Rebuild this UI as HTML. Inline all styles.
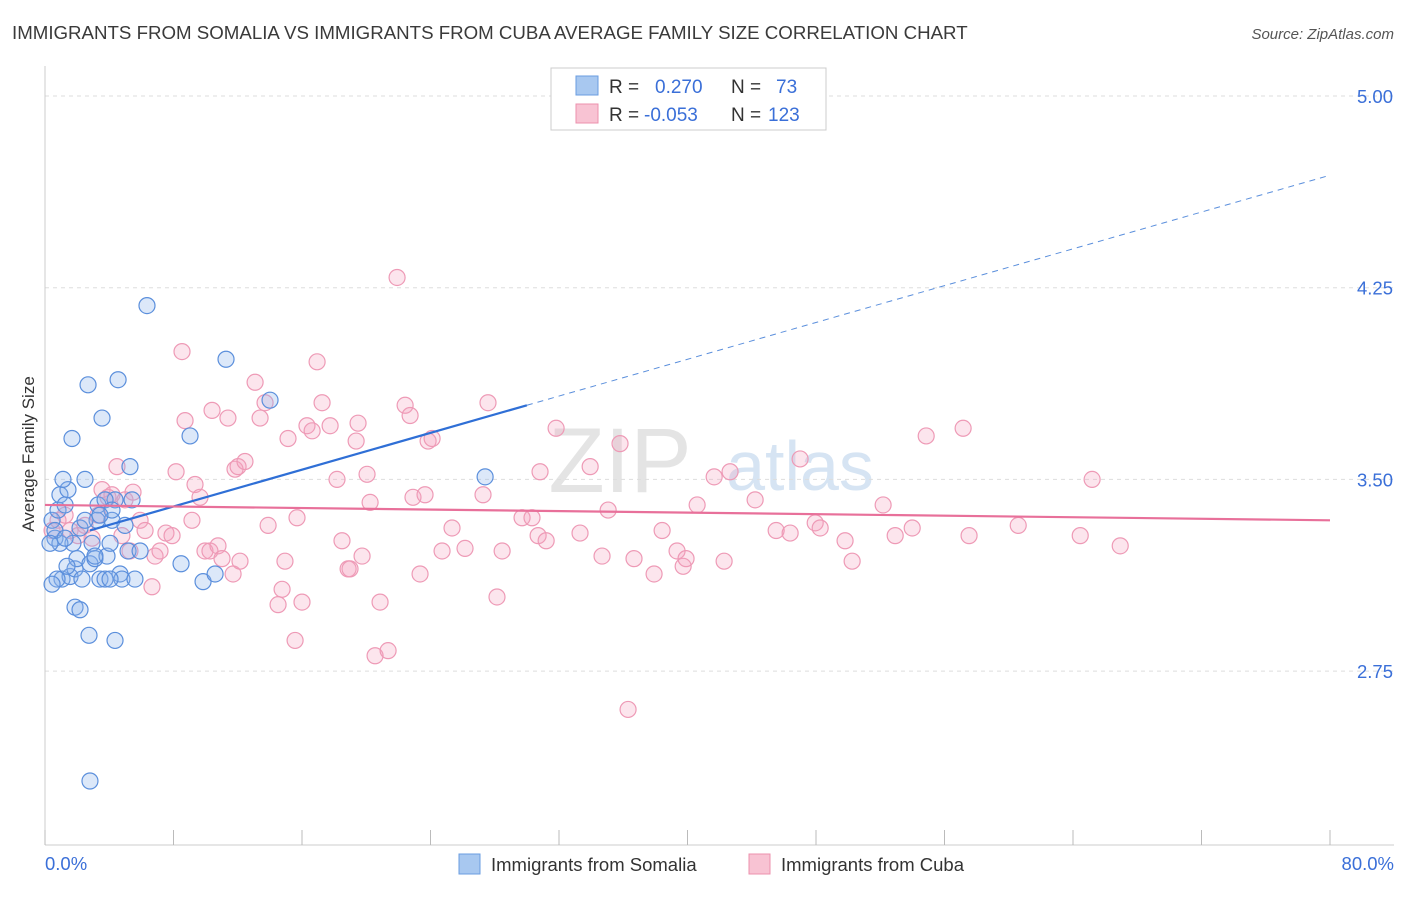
<!DOCTYPE html>
<html><head><meta charset="utf-8"><style>
body{margin:0;background:#fff;font-family:"Liberation Sans",sans-serif;}
svg text{font-family:"Liberation Sans",sans-serif;}
</style></head><body>
<svg id="chart" width="1406" height="892">
<text x="12" y="39" font-size="18.7" fill="#3a3a3a">IMMIGRANTS FROM SOMALIA VS IMMIGRANTS FROM CUBA AVERAGE FAMILY SIZE CORRELATION CHART</text>
<text x="1394" y="39" font-size="15" fill="#555" text-anchor="end" font-style="italic">Source: ZipAtlas.com</text>
<text x="36" y="456" font-size="17" fill="#333" text-anchor="middle" transform="rotate(-90 34 456)">Average Family Size</text>
<text x="620" y="492" font-size="92" fill="#e4e4e4" font-family="Liberation Serif" text-anchor="middle">ZIP</text>
<text x="800" y="490" font-size="70" fill="#d6e4f3" text-anchor="middle">atlas</text>
<g id="grid"></g><g id="axes"></g><g id="pink"></g><g id="blue"></g><g id="lines"></g>
<g>
<rect x="551" y="68" width="275" height="62" fill="#fff" stroke="#ccc"/>
<rect x="576" y="76" width="22" height="19" fill="#a8c8f0" stroke="#6a9de0"/>
<rect x="576" y="104" width="22" height="19" fill="#f8c3d3" stroke="#ec90ae"/>
<text x="609" y="93" font-size="19" fill="#333">R = <tspan fill="#3a6fd8" x="655">0.270</tspan><tspan x="731">N = </tspan><tspan fill="#3a6fd8" x="776">73</tspan></text>
<text x="609" y="121" font-size="19" fill="#333">R = <tspan fill="#3a6fd8" x="644">-0.053</tspan><tspan x="731">N = </tspan><tspan fill="#3a6fd8" x="768">123</tspan></text>
</g>
<g>
<rect x="459" y="854" width="21" height="20" fill="#a8c8f0" stroke="#6a9de0"/>
<text x="491" y="871" font-size="18.5" fill="#333">Immigrants from Somalia</text>
<rect x="749" y="854" width="21" height="20" fill="#f8c3d3" stroke="#ec90ae"/>
<text x="781" y="871" font-size="18.5" fill="#333">Immigrants from Cuba</text>
</g>
</svg>
<script>
const yTicks=[5.00,4.25,3.50,2.75];
const xTickLabels=["0.0%","80.0%"];
const blueX=[.44,.62,.81,.93,1.25,1.06,1.43,1.56,1.68,1.74,1.87,1.99,2.18,2.30,2.49,2.68,2.80,2.93,3.11,3.24,3.30,3.42,3.55,3.74,3.86,4.05,4.17,4.36,4.55,4.67,4.79,4.98,5.17,5.29,5.42,5.60,5.92,6.35,8.47,9.03,9.84,10.59,11.27,14.01,27.40,2.74,4.36,2.80,1.87,2.18,3.74,4.17,.93,.62,.31,1.37,2.49,3.11,1.12,.75,4.05,3.42,1.25,.44];
const blueY=[3.34,3.27,3.38,3.44,3.40,3.11,3.46,3.12,3.66,3.25,3.15,3.19,3.31,3.11,3.50,3.87,3.17,3.25,3.19,3.34,3.40,3.11,3.74,3.11,3.20,3.25,3.34,3.42,3.89,3.13,3.11,3.32,3.22,3.55,3.42,3.11,3.22,4.18,3.17,3.67,3.10,3.13,3.97,3.81,3.51,2.89,2.87,2.32,3.00,2.99,3.42,3.38,3.25,3.30,3.25,3.16,3.34,3.20,3.50,3.11,3.11,3.36,3.27,3.09];
const pinkX=[.44,.81,1.25,1.56,2.05,2.49,2.93,3.30,3.55,3.92,4.17,4.48,4.79,4.98,5.29,5.48,5.92,6.23,6.66,6.85,7.16,7.53,7.91,8.16,8.53,8.72,9.15,9.34,9.65,9.96,10.27,10.40,10.77,11.02,11.39,11.71,11.83,12.02,12.14,12.45,13.08,13.39,13.70,13.89,14.51,14.76,14.94,15.13,15.57,15.69,16.00,16.31,16.63,16.94,17.25,17.75,18.18,18.49,18.87,18.99,19.37,19.49,19.74,20.05,20.24,20.55,20.86,21.36,21.92,22.42,22.73,22.91,23.35,23.66,23.85,24.10,24.72,25.34,26.15,27.27,27.58,28.14,28.46,29.70,30.32,30.70,30.82,31.20,31.82,33.31,33.94,34.68,35.06,35.80,36.30,36.67,37.92,38.42,39.35,39.73,39.91,40.60,41.66,42.28,42.65,44.21,45.52,46.39,47.01,47.95,48.26,49.81,50.25,52.18,52.93,53.99,54.86,57.16,57.53,60.59,64.45,65.19,66.94];
const pinkY=[3.30,3.34,3.36,3.30,3.28,3.32,3.27,3.36,3.46,3.43,3.44,3.55,3.28,3.42,3.22,3.45,3.34,3.30,3.08,3.20,3.22,3.29,3.28,3.53,4.00,3.73,3.34,3.48,3.43,3.22,3.22,3.77,3.24,3.19,3.74,3.13,3.54,3.55,3.18,3.57,3.88,3.74,3.80,3.32,3.01,3.07,3.18,3.66,2.87,3.35,3.02,3.71,3.69,3.96,3.80,3.71,3.50,3.26,3.15,3.15,3.65,3.72,3.20,3.52,3.41,2.81,3.02,2.83,4.29,3.79,3.75,3.43,3.13,3.44,3.65,3.66,3.22,3.31,3.23,3.44,3.80,3.04,3.22,3.35,3.35,3.28,3.53,3.26,3.70,3.29,3.55,3.20,3.38,3.64,2.60,3.19,3.13,3.30,3.22,3.16,3.19,3.40,3.51,3.18,3.53,3.42,3.30,3.29,3.58,3.33,3.31,3.26,3.18,3.40,3.28,3.31,3.67,3.70,3.28,3.32,3.28,3.50,3.24];
const blueTrend=[3.25,4.69];
const pinkTrend=[3.40,3.34];
const NS="http://www.w3.org/2000/svg";
const X=v=>45+v/80*1285, Y=v=>96+(5-v)*255.6;
function mk(t,a,p){const e=document.createElementNS(NS,t);for(const k in a)e.setAttribute(k,a[k]);document.getElementById(p).appendChild(e);return e;}
yTicks.forEach(t=>{
 const l=mk('line',{x1:45,x2:1394,y1:Y(t),y2:Y(t),stroke:'#ddd','stroke-dasharray':'4,4'},'grid');
 
 
 const tx=mk('text',{x:1393,y:Y(t)+7,'font-size':18.5,fill:'#3a6fd8','text-anchor':'end'},'grid');
 tx.textContent=t.toFixed(2);
 
 
});
const ax=mk('line',{x1:45,x2:1394,y1:845,y2:845,stroke:'#ccc'},'axes');


const ay=mk('line',{x1:45,x2:45,y1:66,y2:845,stroke:'#ccc'},'axes');


for(let i=0;i<=10;i++){const t=mk('line',{x1:X(i*8),x2:X(i*8),y1:830,y2:845,stroke:'#bbb'},'axes');
 
 }
[[0,'start',45],[1,'end',1394]].forEach(([i,a,x])=>{const t=mk('text',{x:x,y:870,'font-size':18.5,fill:'#3a6fd8','text-anchor':a},'axes');t.textContent=xTickLabels[i];
 
 });
pinkX.forEach((v,i)=>{const c=mk('circle',{cx:X(v),cy:Y(pinkY[i]),r:8,fill:'rgba(244,160,190,0.28)',stroke:'#ee9ab6','stroke-width':1.2},'pink');
 
 });
blueX.forEach((v,i)=>{const c=mk('circle',{cx:X(v),cy:Y(blueY[i]),r:8,fill:'rgba(140,180,235,0.3)',stroke:'#5b8fdc','stroke-width':1.2},'blue');
 
 });
const bt=x=>blueTrend[0]+(blueTrend[1]-blueTrend[0])*x/80;
const l1=mk('line',{x1:X(2.8),y1:Y(bt(2.8)),x2:X(30),y2:Y(bt(30)),stroke:'#2f6fd6','stroke-width':2.2},'lines');


const l2=mk('line',{x1:X(30),y1:Y(bt(30)),x2:X(80),y2:Y(bt(80)),stroke:'#5b8fdc','stroke-width':1,'stroke-dasharray':'6,5'},'lines');


const l3=mk('line',{x1:X(0),y1:Y(pinkTrend[0]),x2:X(80),y2:Y(pinkTrend[1]),stroke:'#e8709a','stroke-width':2.2},'lines');


</script>
</body></html>
